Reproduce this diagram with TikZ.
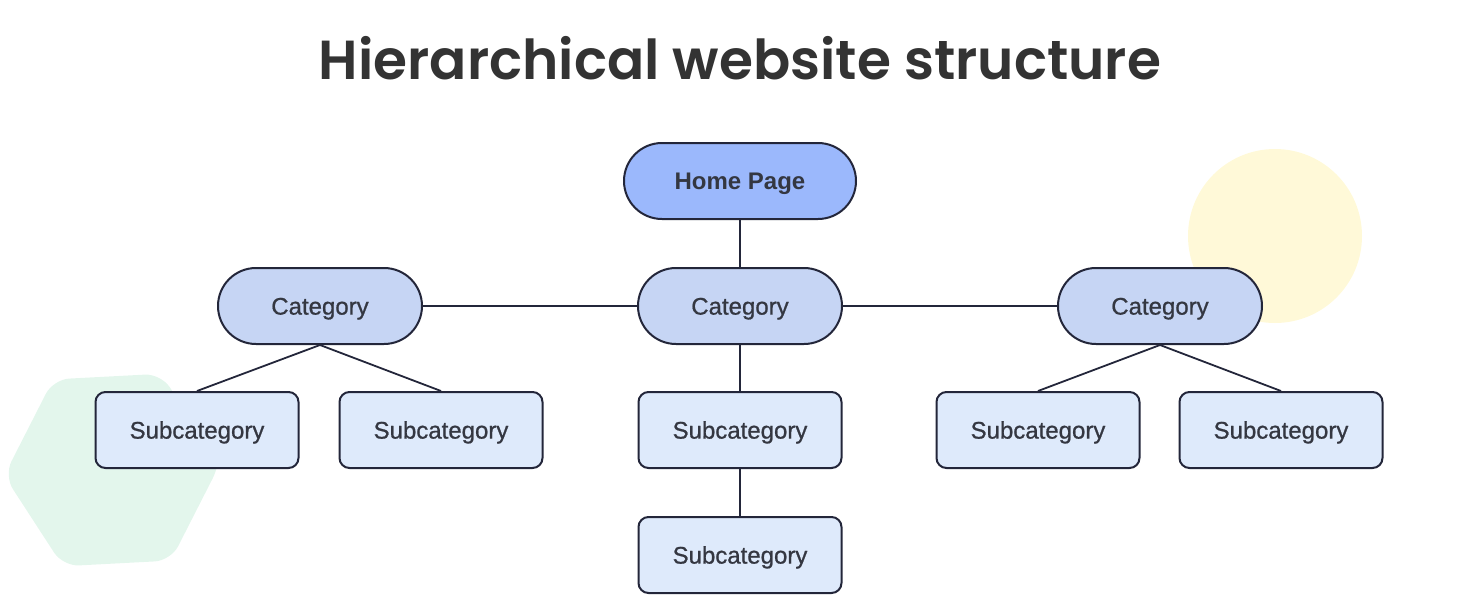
\documentclass[tikz,border=0pt]{standalone}
\usepackage{fontspec}
\setmainfont{Liberation Sans}
\newfontfamily\medfont{Liberation Sans}[FakeBold=0.8]
\newfontfamily\titlefont{Poppins SemiBold}
\usetikzlibrary{positioning}
\definecolor{homefill}{HTML}{9BB8FC}
\definecolor{catfill}{HTML}{C6D5F4}
\definecolor{subfill}{HTML}{DEEAFB}
\definecolor{edge}{HTML}{23263A}
\definecolor{txt}{HTML}{343741}
\definecolor{titlegray}{HTML}{333333}
\definecolor{hexgreen}{HTML}{E3F6EC}
\definecolor{sunyellow}{HTML}{FFF9D8}
\begin{document}
\begin{tikzpicture}[x=0.5pt,y=-0.5pt,
		box/.style={draw=edge,line width=1pt,minimum height=38pt,text height=8.6pt,text depth=0pt,text=txt,font=\medfont\fontsize{12}{14}\selectfont},
		home/.style={box,fill=homefill,rounded corners=19pt,minimum width=116pt,font=\fontsize{12}{14}\selectfont\bfseries},
		cat/.style={box,fill=catfill,rounded corners=19pt,minimum width=102pt},
		sub/.style={box,fill=subfill,rounded corners=5pt,minimum width=101.5pt},
		link/.style={draw=edge,line width=0.9pt}]
		\useasboundingbox (0,0) rectangle (1480,600);
		% background shapes
		\fill[hexgreen,rounded corners=8pt] (112,470) ++(-3:108) -- ++(117:108) -- ++(177:108) -- ++(237:108) -- ++(297:108) -- ++(357:108) -- ++(57:108) -- cycle;
		\fill[sunyellow] (1275,236) circle [radius=87];
		% title
		\node[text=titlegray,font=\titlefont\fontsize{27.5}{32}\selectfont] (title) at (740,58) {Hierarchical website structure};
		% nodes
		\node[home] (home) at (740,181) {Home Page};
		\node[cat] (catm) at (740,306) {Category};
		\node[cat] (catl) at (320,306) {Category};
		\node[cat] (catr) at (1160,306) {Category};
		\node[sub] (subla) at (197,430) {Subcategory};
		\node[sub] (sublb) at (441,430) {Subcategory};
		\node[sub] (subm) at (740,430) {Subcategory};
		\node[sub] (submm) at (740,555) {Subcategory};
		\node[sub] (subra) at (1038,430) {Subcategory};
		\node[sub] (subrb) at (1281,430) {Subcategory};
		% connectors
		\draw[link] (home) -- (catm);
		\draw[link] (catm) -- (catl);
		\draw[link] (catm) -- (catr);
		\draw[link] (catm) -- (subm);
		\draw[link] (subm) -- (submm);
		\draw[link] (catl.south) -- (subla.north);
		\draw[link] (catl.south) -- (sublb.north);
		\draw[link] (catr.south) -- (subra.north);
		\draw[link] (catr.south) -- (subrb.north);
\end{tikzpicture}
\end{document}
